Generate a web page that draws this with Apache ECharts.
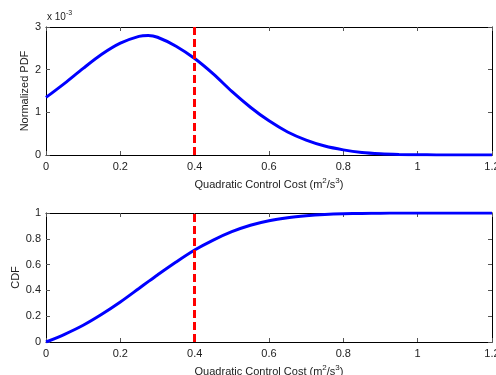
<!DOCTYPE html>
<html><head><meta charset="utf-8">
<script src="https://cdn.jsdelivr.net/npm/echarts@6/dist/echarts.min.js"></script>
<style>html,body{margin:0;padding:0;background:#fff}#c{width:496px;height:375px}</style>
</head><body><div id="c"></div>
<script>
const costX = [0,0.05,0.1,0.15,0.2,0.25,0.275,0.3,0.35,0.4,0.45,0.5,0.55,0.6,0.65,0.7,0.75,0.8,0.85,0.9,0.95,1.0,1.05,1.1,1.15,1.2];
const pdfVals = [1.35,1.68,2.03,2.36,2.62,2.78,2.80,2.76,2.55,2.26,1.90,1.49,1.12,0.80,0.54,0.35,0.21,0.12,0.06,0.03,0.014,0.005,0.002,0.001,0,0];
const cdfVals = [0,0.06,0.13,0.215,0.31,0.415,0.468,0.52,0.62,0.713,0.79,0.855,0.905,0.94,0.963,0.978,0.988,0.994,0.997,0.999,1,1,1,1,1,1];
const xTicks = {min:0,max:1.2,interval:0.2};
const markX = 0.4;
const xName = 'Quadratic Control Cost (m{s|2}/s{s|3})';

const font = 'Liberation Sans, Arial, sans-serif';
const txt = '#222';
const rich = {s:{fontSize:8,fontFamily:font,color:txt,padding:[0,0,7,0]}};
const lineAx = {onZero:false,lineStyle:{color:'#000',width:1}};
const tickAx = {show:true,inside:true,length:4,lineStyle:{color:'#555'}};
function xAx(gi){
  return [{gridIndex:gi,type:'value',min:xTicks.min,max:xTicks.max,interval:xTicks.interval,position:'bottom',
    axisLine:lineAx,axisTick:tickAx,splitLine:{show:false},
    axisLabel:{color:txt,fontSize:11,fontFamily:font,margin:6,formatter:v=>String(+v.toFixed(1))},
    name:xName,nameLocation:'middle',nameGap:22,nameMoveOverlap:false,
    nameTextStyle:{color:txt,fontSize:11,fontFamily:font,rich:rich}},
   {gridIndex:gi,type:'value',min:xTicks.min,max:xTicks.max,interval:xTicks.interval,position:'top',
    axisLine:lineAx,axisTick:tickAx,splitLine:{show:false},axisLabel:{show:false}}];
}
function yAx(gi,min,max,interval,name,gap,fmt){
  return [{gridIndex:gi,type:'value',min:min,max:max,interval:interval,position:'left',
    axisLine:Object.assign({show:true},lineAx),axisTick:tickAx,splitLine:{show:false},
    axisLabel:{color:txt,fontSize:11,fontFamily:font,margin:5,formatter:fmt},
    name:name,nameLocation:'middle',nameGap:gap,nameMoveOverlap:false,
    nameTextStyle:{color:txt,fontSize:11,fontFamily:font}},
   {gridIndex:gi,type:'value',min:min,max:max,interval:interval,position:'right',
    axisLine:Object.assign({show:true},lineAx),axisTick:tickAx,splitLine:{show:false},axisLabel:{show:false}}];
}
const mark = {silent:true,symbol:'none',label:{show:false},
  lineStyle:{color:'#ff0000',width:3,type:[8,4]},data:[{xAxis:markX}]};

const chart = echarts.init(document.getElementById('c'),null,{renderer:'canvas'});
chart.setOption({
  animation:false,
  grid:[{left:46,top:27,width:446,height:128,containLabel:false,outerBoundsMode:'none'},
        {left:46,top:213,width:446,height:129,containLabel:false,outerBoundsMode:'none'}],
  xAxis:[...xAx(0),...xAx(1)],
  yAxis:[...yAx(0,0,3,1,'Normalized PDF',16,v=>String(v)),...yAx(1,0,1,0.2,'CDF',25,v=>String(+v.toFixed(1)))],
  graphic:[{type:'text',left:47,top:10,style:{text:'x 10{s|-3}',fill:txt,font:'10px '+font,
     rich:{s:{fontSize:7,fontFamily:font,fill:txt,padding:[0,0,7,0]}}}}],
  series:[
    {type:'line',xAxisIndex:0,yAxisIndex:0,data:costX.map((x,i)=>[x,pdfVals[i]]),smooth:0.3,symbol:'none',
     lineStyle:{color:'#0000ff',width:3},markLine:mark,z:3},
    {type:'line',xAxisIndex:2,yAxisIndex:2,data:costX.map((x,i)=>[x,cdfVals[i]]),smooth:0.3,symbol:'none',
     lineStyle:{color:'#0000ff',width:3},markLine:mark,z:3}
  ]
});
</script></body></html>
